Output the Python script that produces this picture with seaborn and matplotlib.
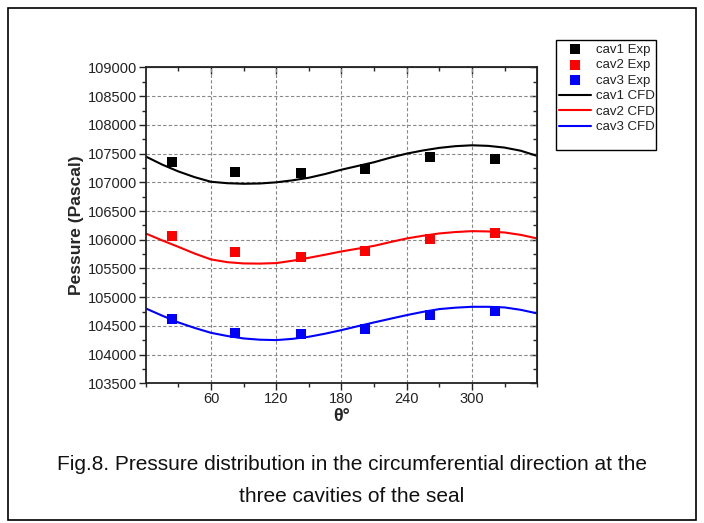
"""
Circumferential pressure distribution in the three seal cavities (Exp vs CFD).
"""
import numpy  as np
import pandas as pd

import matplotlib
matplotlib.use("Agg")
import matplotlib.pyplot as plt
import seaborn           as sns
from matplotlib.ticker   import MultipleLocator, FixedLocator
from matplotlib.patches  import Rectangle

# ================================================================================
# Data
# ================================================================================
theta_exp = [24, 82, 143, 202, 261, 321]
cav1_exp  = [107357, 107172, 107155, 107225, 107444, 107398]
cav2_exp  = [106064, 105780, 105698, 105803, 106012, 106110]
cav3_exp  = [104613, 104370, 104364, 104440, 104684, 104758]

theta_cfd = [0, 15, 30, 45, 60, 75, 90, 105, 120, 135, 150, 165, 180,
             195, 210, 225, 240, 255, 270, 285, 300, 315, 330, 345, 360]
cav1_cfd  = [107450, 107310, 107190, 107090, 107010, 106985, 106975, 106980, 107000,
             107035, 107080, 107145, 107220, 107285, 107350, 107430, 107500, 107555,
             107600, 107630, 107645, 107635, 107605, 107550, 107460]
cav2_cfd  = [106110, 105990, 105877, 105760, 105658, 105610, 105588, 105585, 105594,
             105635, 105686, 105740, 105797, 105845, 105894, 105960, 106023, 106070,
             106110, 106135, 106150, 106145, 106127, 106085, 106023]
cav3_cfd  = [104805, 104680, 104561, 104465, 104380, 104325, 104282, 104260, 104253,
             104275, 104311, 104365, 104427, 104495, 104561, 104625, 104688, 104745,
             104793, 104818, 104833, 104833, 104822, 104780, 104718]

names  = ["cav1", "cav2", "cav3"]
colors = ["black", "red", "blue"]

df_exp = pd.DataFrame({
    "theta": theta_exp * 3,
    "p"    : cav1_exp + cav2_exp + cav3_exp,
    "cav"  : np.repeat(names, len(theta_exp)),
})
df_cfd = pd.DataFrame({
    "theta": theta_cfd * 3,
    "p"    : cav1_cfd + cav2_cfd + cav3_cfd,
    "cav"  : np.repeat(names, len(theta_cfd)),
})

# ================================================================================
# Plot
# ================================================================================
sns.set_style("ticks")
font = "Liberation Sans"
plt.rcParams["font.family"] = [font, "DejaVu Sans"]

fig = plt.figure(figsize=(7.04, 5.23), dpi=100)
ax  = fig.add_axes([0.207, 0.267, 0.556, 0.604])

for name, col in zip(names, colors):
    sns.lineplot(data=df_cfd[df_cfd["cav"] == name], x="theta", y="p",
                 color=col, lw=1.5, label=f"{name} CFD", ax=ax)
for name, col in zip(names, colors):
    sns.scatterplot(data=df_exp[df_exp["cav"] == name], x="theta", y="p",
                    color=col, marker="s", s=48, linewidth=0,
                    label=f"{name} Exp", ax=ax, zorder=3)

ax.set_xlim(0, 360)
ax.set_ylim(103500, 109000)
ax.xaxis.set_major_locator(FixedLocator([60, 120, 180, 240, 300]))
ax.xaxis.set_minor_locator(FixedLocator([0, 30, 90, 150, 210, 270, 330, 360]))
ax.yaxis.set_major_locator(MultipleLocator(500))
ax.yaxis.set_minor_locator(MultipleLocator(250))

ax.grid(True, which="major", ls=(0, (3, 2)), color="#888888", lw=0.8)
for s in ax.spines.values():
    s.set_visible(True); s.set_linewidth(1.3); s.set_color("#222222")

# left / bottom ticks point outwards
ax.tick_params(axis="both", which="major", direction="out", length=5, width=1,
               labelsize=10.5, colors="#222222", pad=1, top=False, right=False)
ax.tick_params(axis="both", which="minor", direction="out", length=3, width=1,
               top=False, right=False)

# top / right ticks point inwards
sec_x = ax.secondary_xaxis("top")
sec_x.xaxis.set_major_locator(FixedLocator([60, 120, 180, 240, 300]))
sec_x.xaxis.set_minor_locator(FixedLocator([30, 90, 150, 210, 270, 330]))
sec_x.tick_params(which="major", direction="in", length=5, width=1, labeltop=False)
sec_x.tick_params(which="minor", direction="in", length=3, width=1)
sec_y = ax.secondary_yaxis("right")
sec_y.yaxis.set_major_locator(MultipleLocator(500))
sec_y.yaxis.set_minor_locator(MultipleLocator(250))
sec_y.tick_params(which="major", direction="in", length=5, width=1, labelright=False)
sec_y.tick_params(which="minor", direction="in", length=3, width=1)

ax.set_xlabel("θ°", fontsize=13, fontweight="bold", labelpad=2)
ax.set_ylabel("Pessure (Pascal)", fontsize=12.5, fontweight="bold", labelpad=3)

# --------------------------------------------------------------------------------
# Legend outside the axes, Exp entries first, in a taller hand-drawn box
# --------------------------------------------------------------------------------
handles, labels = ax.get_legend_handles_labels()
order = [3, 4, 5, 0, 1, 2]
ax.get_legend().remove()
leg = fig.legend([handles[i] for i in order], [labels[i] for i in order],
                 loc="upper left", bbox_to_anchor=(556 / 704, 1 - 40 / 523),
                 fontsize=9.5, frameon=False,
                 borderpad=0.25, handlelength=2.4, handletextpad=0.35,
                 labelspacing=0.25, borderaxespad=0)
for t in leg.get_texts():
    t.set_color("#222222")
fig.patches.append(Rectangle((556 / 704, 1 - 150 / 523), 100 / 704, 110 / 523,
                             transform=fig.transFigure, fill=False,
                             edgecolor="black", lw=1.0))

# --------------------------------------------------------------------------------
# Caption and outer frame
# --------------------------------------------------------------------------------
fig.text(0.5, 1 - 465 / 523, "Fig.8. Pressure distribution in the circumferential direction at the",
         ha="center", va="center", fontsize=15, color="#111111")
fig.text(0.5, 1 - 497 / 523, "three cavities of the seal",
         ha="center", va="center", fontsize=15, color="#111111")
fig.patches.append(Rectangle((8 / 704, 3 / 523), 688 / 704, 512 / 523,
                             transform=fig.transFigure, fill=False,
                             edgecolor="black", lw=1.2))

fig.savefig("out.png", dpi=100)
